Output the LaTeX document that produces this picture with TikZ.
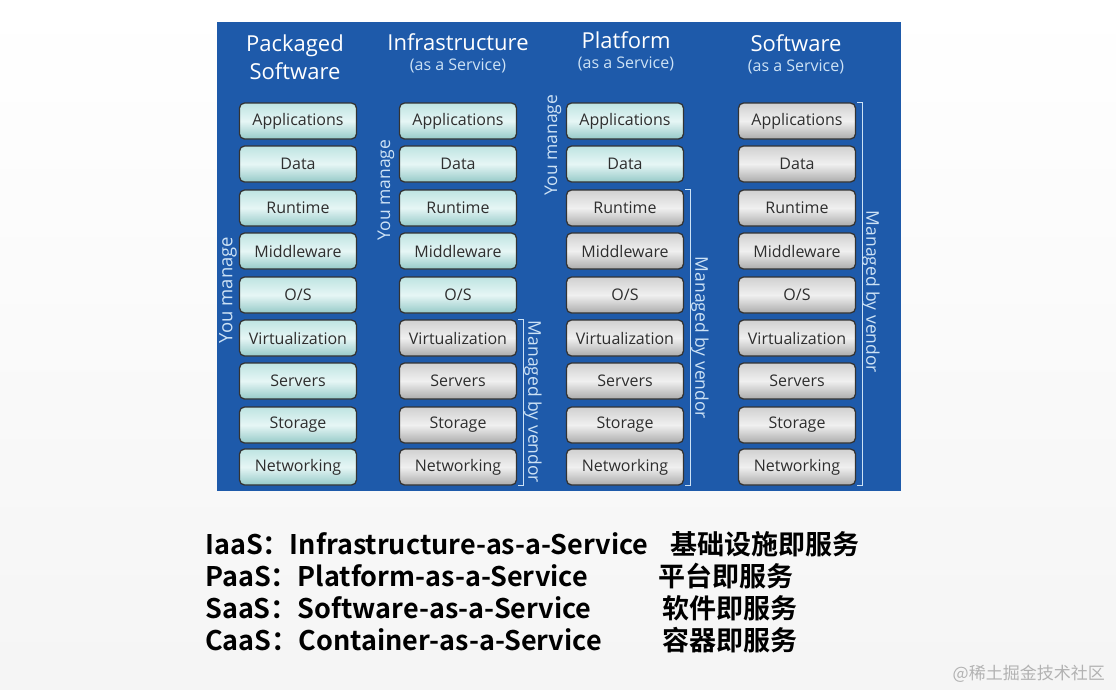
\documentclass[tikz,border=0pt]{standalone}
\usepackage{fontspec}
\setmainfont{Open Sans}
\newfontfamily\cjk{Noto Sans CJK SC}[BoldFont={* Bold}]
\usepackage{tikz}
\definecolor{panelblue}{RGB}{30,90,170}
\definecolor{tealtop}{RGB}{190,228,226}
\definecolor{tealmid}{RGB}{230,246,245}
\definecolor{tealbot}{RGB}{150,202,200}
\definecolor{greytop}{RGB}{208,208,208}
\definecolor{greymid}{RGB}{240,240,240}
\definecolor{greybot}{RGB}{172,172,172}
\definecolor{bracketblue}{RGB}{205,226,245}
\tikzset{
  layer/.style={rounded corners=5pt,minimum width=117pt,minimum height=36pt,inner sep=0pt,
    draw=black!80,line width=1.3pt,text=black!82,font=\fontsize{16}{16}\selectfont},
  own/.style={layer,top color=tealtop,bottom color=tealbot,middle color=tealmid},
  vend/.style={layer,top color=greytop,bottom color=greybot,middle color=greymid},
  bracket/.style={draw=bracketblue,line width=1.3pt},
  sidelabel/.style={text=bracketblue,inner sep=0pt,font=\fontsize{17.5}{17.5}\selectfont},
  title/.style={text=white,inner sep=0pt,align=center,font=\fontsize{22}{28}\selectfont},
  subtitle/.style={text=bracketblue,inner sep=0pt,font=\fontsize{16}{16}\selectfont},
  legend/.style={anchor=base west,inner sep=0pt,font=\cjk\bfseries\fontsize{27}{27}\selectfont}
}

\begin{document}
\begin{tikzpicture}[x=1pt,y=-1pt]
\useasboundingbox[top color=white,bottom color=black!4](0,0) rectangle (1116,689);
\fill[panelblue](217,22) rectangle (901,491);

% column titles
\node (tpack) at (295,57) [title]{Packaged\\Software};
\node (tinfra) at (458,42) [title]{Infrastructure};
\node (sinfra) at (458,66) [subtitle]{(as a Service)};
\node (tplat) at (626,40) [title]{Platform};
\node (splat) at (626,64) [subtitle]{(as a Service)};
\node (tsoft) at (796,43) [title]{Software};
\node (ssoft) at (796,67) [subtitle]{(as a Service)};

% packaged software
\node (p1) at (298,121) [own]{Applications};
\node (p2) at (298,164) [own]{Data};
\node (p3) at (298,208) [own]{Runtime};
\node (p4) at (298,251) [own]{Middleware};
\node (p5) at (298,295) [own]{O/S};
\node (p6) at (298,338) [own]{Virtualization};
\node (p7) at (298,381) [own]{Servers};
\node (p8) at (298,425) [own]{Storage};
\node (p9) at (298,467) [own]{Networking};

% infrastructure
\node (i1) at (458,121) [own]{Applications};
\node (i2) at (458,164) [own]{Data};
\node (i3) at (458,208) [own]{Runtime};
\node (i4) at (458,251) [own]{Middleware};
\node (i5) at (458,295) [own]{O/S};
\node (i6) at (458,338) [vend]{Virtualization};
\node (i7) at (458,381) [vend]{Servers};
\node (i8) at (458,425) [vend]{Storage};
\node (i9) at (458,467) [vend]{Networking};

% platform
\node (f1) at (625,121) [own]{Applications};
\node (f2) at (625,164) [own]{Data};
\node (f3) at (625,208) [vend]{Runtime};
\node (f4) at (625,251) [vend]{Middleware};
\node (f5) at (625,295) [vend]{O/S};
\node (f6) at (625,338) [vend]{Virtualization};
\node (f7) at (625,381) [vend]{Servers};
\node (f8) at (625,425) [vend]{Storage};
\node (f9) at (625,467) [vend]{Networking};

% software
\node (s1) at (797,121) [vend]{Applications};
\node (s2) at (797,164) [vend]{Data};
\node (s3) at (797,208) [vend]{Runtime};
\node (s4) at (797,251) [vend]{Middleware};
\node (s5) at (797,295) [vend]{O/S};
\node (s6) at (797,338) [vend]{Virtualization};
\node (s7) at (797,381) [vend]{Servers};
\node (s8) at (797,425) [vend]{Storage};
\node (s9) at (797,467) [vend]{Networking};

% who manages what
\node (ypack) at (228,290) [sidelabel,rotate=90,font=\fontsize{18.5}{18.5}\selectfont]{You manage};
\node (yinfra) at (386,190) [sidelabel,rotate=90]{You manage};
\node (yplat) at (553,145) [sidelabel,rotate=90]{You manage};
\draw[bracket]([xshift=1pt]i6.north east) -- ++(5,0) |- ([xshift=1pt]i9.south east);
\draw[bracket]([xshift=1pt]f3.north east) -- ++(5,0) |- ([xshift=1pt]f9.south east);
\draw[bracket]([xshift=1pt]s1.north east) -- ++(5,0) |- ([xshift=1pt]s9.south east);
\node (vinfra) at (533,402) [sidelabel,rotate=-90]{Managed by vendor};
\node (vplat) at (700,338) [sidelabel,rotate=-90]{Managed by vendor};
\node (vsoft) at (871,292) [sidelabel,rotate=-90]{Managed by vendor};

% legend
\node (liaas) at (205,554) [legend]{IaaS：Infrastructure-as-a-Service};
\node (lpaas) at (205,586) [legend]{PaaS：Platform-as-a-Service};
\node (lsaas) at (205,618) [legend]{SaaS：Software-as-a-Service};
\node (lcaas) at (205,650) [legend]{CaaS：Container-as-a-Service};
\node (ziaas) at (670,554) [legend]{基础设施即服务};
\node (zpaas) at (658,586) [legend]{平台即服务};
\node (zsaas) at (662,618) [legend]{软件即服务};
\node (zcaas) at (662,650) [legend]{容器即服务};
\node (mark) at (1105,679) [anchor=base east,inner sep=0pt,text=black!30,font=\cjk\fontsize{17}{17}\selectfont]{@稀土掘金技术社区};
\end{tikzpicture}
\end{document}
